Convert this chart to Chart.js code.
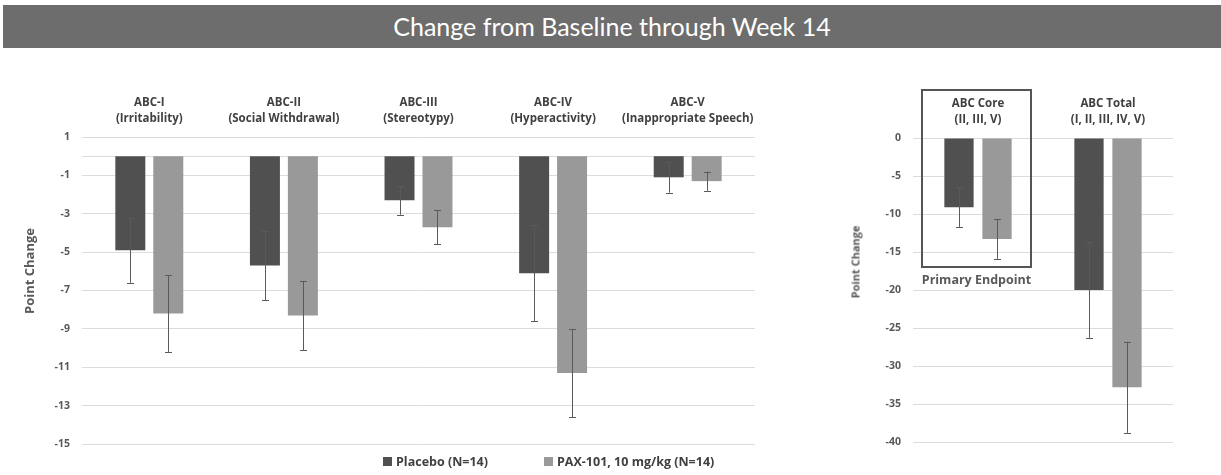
<!DOCTYPE html>
<html>
<head>
<meta charset="utf-8">
<script src="https://cdn.jsdelivr.net/npm/chart.js@4.4.0/dist/chart.umd.min.js"></script>
<style>
  body { margin: 0; width: 1221px; height: 475px; background: #fff; overflow: hidden; position: relative; font-family: "Open Sans", sans-serif; }
  #title { position: absolute; left: 3px; top: 5px; width: 1218px; height: 43px; background: #6d6d6d; color: #fff; font-family: Lato, sans-serif; font-size: 25px; line-height: 43px; text-align: center; }
  #leftBox { position: absolute; left: 0; top: 55px; width: 800px; height: 420px; }
  #rightBox { position: absolute; left: 820px; top: 55px; width: 401px; height: 420px; }
  #primary { position: absolute; left: 921px; top: 89px; width: 107px; height: 175px; border: 2px solid #555; pointer-events: none; }
  #primaryLabel { position: absolute; left: 921px; top: 271px; width: 111px; text-align: center; font-weight: bold; font-size: 12.5px; color: #595959; }
  .ytitle { position: absolute; transform: translate(-50%, -50%) rotate(-90deg); font-weight: bold; color: #595959; white-space: nowrap; }
  #legend { position: absolute; left: 383px; top: 453px; font-weight: bold; font-size: 12.5px; color: #404040; white-space: nowrap; }
  #legend span.sw { display: inline-block; width: 9px; height: 9px; margin-right: 4px; }
  #legend span.item { margin-right: 56px; }
</style>
</head>
<body>
<div id="title">Change from Baseline through Week 14</div>
<div id="leftBox"><canvas id="leftChart"></canvas></div>
<div id="rightBox"><canvas id="rightChart"></canvas></div>
<div class="ytitle" style="left:29px; top:271px; font-size:13px;">Point Change</div>
<div class="ytitle" style="left:855px; top:262px; font-size:11px;">Point Change</div>
<div id="primary"></div>
<div id="primaryLabel">Primary Endpoint</div>
<div id="legend">
  <span class="item"><span class="sw" style="background:#505050"></span>Placebo (N=14)</span><span><span class="sw" style="background:#999999"></span>PAX-101, 10 mg/kg (N=14)</span>
</div>
<script>
// Subscales
const leftCategories = [
  ['ABC-I', '(Irritability)'],
  ['ABC-II', '(Social Withdrawal)'],
  ['ABC-III', '(Stereotypy)'],
  ['ABC-IV', '(Hyperactivity)'],
  ['ABC-V', '(Inappropriate Speech)']
];
const leftPlacebo = [-4.9, -5.7, -2.3, -6.1, -1.1];
const leftPlaceboErr = [1.7, 1.8, 0.75, 2.5, 0.8];
const leftPax = [-8.2, -8.3, -3.7, -11.3, -1.3];
const leftPaxErr = [2.0, 1.8, 0.9, 2.3, 0.5];
const leftTicks = [1, -1, -3, -5, -7, -9, -11, -13, -15];

// Core and total
const rightCategories = [
  ['ABC Core', '(II, III, V)'],
  ['ABC Total', '(I, II, III, IV, V)']
];
const rightPlacebo = [-9.1, -20.0];
const rightPlaceboErr = [2.6, 6.3];
const rightPax = [-13.3, -32.8];
const rightPaxErr = [2.6, 6.0];
const rightTicks = [0, -5, -10, -15, -20, -25, -30, -35, -40];

const placeboColor = '#505050';
const paxColor = '#999999';
const gridColor = '#dcdcdc';
const fontFamily = '"Open Sans", sans-serif';

// error bars drawn on top of the bars
const errorBars = {
  id: 'errorBars',
  afterDatasetsDraw(chart) {
    const ctx = chart.ctx;
    const y = chart.scales.y;
    ctx.save();
    ctx.strokeStyle = '#5a5a5a';
    ctx.lineWidth = 1;
    chart.data.datasets.forEach((ds, i) => {
      chart.getDatasetMeta(i).data.forEach((bar, j) => {
        const v = ds.data[j], e = ds.errors[j];
        const top = y.getPixelForValue(v + e);
        const bottom = y.getPixelForValue(v - e);
        const x = Math.round(bar.x) + 0.5;
        ctx.beginPath();
        ctx.moveTo(x, top); ctx.lineTo(x, bottom);
        ctx.moveTo(x - 3.5, Math.round(top) + 0.5); ctx.lineTo(x + 3.5, Math.round(top) + 0.5);
        ctx.moveTo(x - 3.5, Math.round(bottom) + 0.5); ctx.lineTo(x + 3.5, Math.round(bottom) + 0.5);
        ctx.stroke();
      });
    });
    ctx.restore();
  }
};

// line at zero
const zeroLine = {
  id: 'zeroLine',
  beforeDatasetsDraw(chart) {
    const ctx = chart.ctx;
    const a = chart.chartArea;
    const y0 = Math.round(chart.scales.y.getPixelForValue(0)) + 0.5;
    ctx.save();
    ctx.strokeStyle = gridColor;
    ctx.lineWidth = 1;
    ctx.beginPath();
    ctx.moveTo(a.left, y0); ctx.lineTo(a.right, y0);
    ctx.stroke();
    ctx.restore();
  }
};

function makeChart(id, labels, placebo, placeboErr, pax, paxErr, ticks, opts) {
  const ctx = document.getElementById(id).getContext('2d');
  return new Chart(ctx, {
    type: 'bar',
    data: {
      labels: labels,
      datasets: [{
        label: 'Placebo (N=14)',
        data: placebo,
        errors: placeboErr,
        backgroundColor: placeboColor,
        categoryPercentage: opts.cat,
        barPercentage: opts.bar
      }, {
        label: 'PAX-101, 10 mg/kg (N=14)',
        data: pax,
        errors: paxErr,
        backgroundColor: paxColor,
        categoryPercentage: opts.cat,
        barPercentage: opts.bar
      }]
    },
    options: {
      responsive: true,
      maintainAspectRatio: false,
      animation: false,
      layout: { padding: opts.padding },
      plugins: { legend: { display: false }, tooltip: { enabled: false } },
      scales: {
        x: {
          position: 'top',
          grid: { display: false, drawTicks: false },
          border: { display: false },
          afterFit: s => { s.height = opts.xHeight; },
          ticks: {
            padding: 10,
            maxRotation: 0,
            color: '#404040',
            font: { family: fontFamily, weight: 'bold', size: 11.5, lineHeight: 1.4 }
          }
        },
        y: {
          min: ticks[ticks.length - 1],
          max: ticks[0],
          afterBuildTicks: s => { s.ticks = ticks.map(v => ({ value: v })); },
          afterFit: s => { s.width = opts.yWidth; },
          grid: { color: gridColor, drawTicks: false },
          border: { display: false },
          ticks: {
            padding: 12,
            color: '#595959',
            font: { family: fontFamily, weight: 'bold', size: 10.5 }
          }
        }
      }
    },
    plugins: [zeroLine, errorBars]
  });
}

makeChart('leftChart', leftCategories, leftPlacebo, leftPlaceboErr, leftPax, leftPaxErr, leftTicks, {
  padding: { left: 0, right: 45, top: 0, bottom: 31 },
  xHeight: 82, yWidth: 82, cat: 0.564, bar: 0.79
});

makeChart('rightChart', rightCategories, rightPlacebo, rightPlaceboErr, rightPax, rightPaxErr, rightTicks, {
  padding: { left: 0, right: 48, top: 0, bottom: 33 },
  xHeight: 83, yWidth: 93, cat: 0.585, bar: 0.77
});
</script>
</body>
</html>
